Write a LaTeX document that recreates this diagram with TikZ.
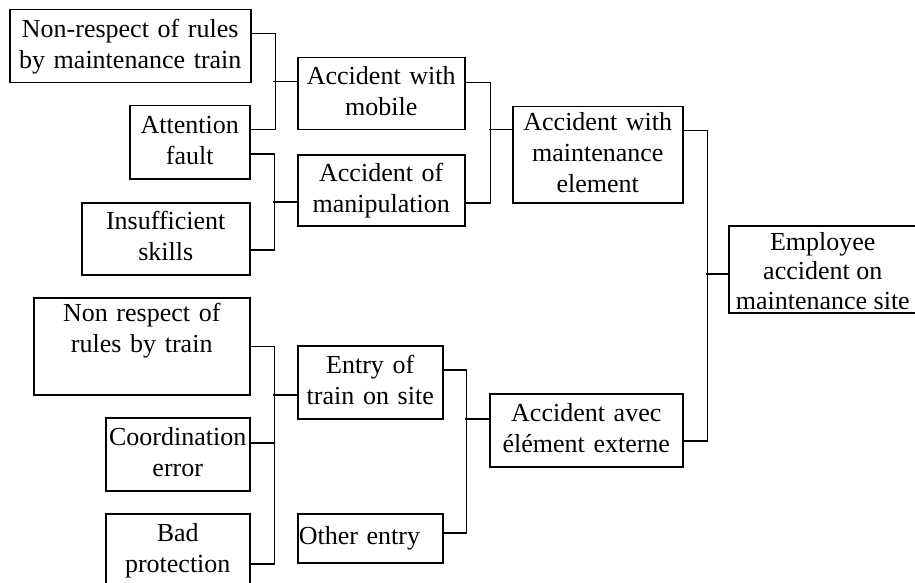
\documentclass[tikz,border=0pt]{standalone}
\usepackage{fontspec}
\setmainfont{Liberation Serif}
% line strut: 20pt above the baseline, 7pt below
\newcommand{\tstrut}{\rule[-7pt]{0pt}{27pt}}
\begin{document}
\begin{tikzpicture}[x=1pt,y=-1pt,
  box/.style={draw, line width=1.5pt, inner xsep=1pt, inner ysep=0pt,
    anchor=north west, align=center,
    font=\fontsize{26}{31}\selectfont},
  link/.style={line width=1.5pt}]
\useasboundingbox (0,0) rectangle (915,583);

% causes
\node[box, text width=239pt, minimum height=73pt] (b1) at (9,9)
  {\tstrut Non-respect of rules\\\tstrut by maintenance train};
\node[box, text width=118pt, minimum height=73pt] (b2) at (129,105)
  {\tstrut Attention\\\tstrut fault};
\node[box, text width=166pt, minimum height=72pt] (b3) at (81,202)
  {\tstrut Insufficient\\\tstrut skills};
\node[box, text width=214pt, minimum height=97pt] (c1) at (33,297)
  {\tstrut Non respect of\\\tstrut rules by train\\\tstrut};
\node[box, text width=142pt, minimum height=73pt] (c2) at (105,417)
  {\tstrut Coordination\\\tstrut error};
\node[box, text width=142pt, minimum height=73pt] (c3) at (105,513)
  {\tstrut Bad\\\tstrut protection};

% intermediate events
\node[box, text width=165pt, minimum height=72pt] (m1) at (297,57)
  {\tstrut Accident with\\\tstrut mobile};
\node[box, text width=165pt, minimum height=71pt] (m2) at (297,154)
  {\tstrut Accident of\\\tstrut manipulation};
\node[box, text width=143pt, minimum height=73pt] (n1) at (297,345)
  {\tstrut Entry of\\\tstrut train on site};
\node[box, text width=143pt, minimum height=49pt, align=left] (n2) at (297,513)
  {\tstrut Other entry};

% upper-level events
\node[box, text width=168pt, minimum height=96pt] (e1) at (512,106)
  {\tstrut Accident with\\\tstrut maintenance\\\tstrut element};
\node[box, text width=191pt, minimum height=73pt] (x1) at (489,393)
  {\tstrut Accident avec\\\tstrut élément externe};

% top event: frame and its text set slightly low in the frame
\node[box, text width=188pt, minimum height=87pt] (top) at (728,225) {};
\node[font=\fontsize{26}{29.5}\selectfont, align=center, inner sep=0pt]
  (toptext) at ([xshift=-1pt,yshift=-4pt]top.center)
  {\tstrut Employee\\\tstrut accident on\\\tstrut maintenance site};

% tree connectors
\draw[link] ([yshift=12.5pt]b1.east) -- ++(24,0) |- ([yshift=12.5pt]b2.east);
\draw[link] ([yshift=12pt]m1.west) -- ++(-24,0);

\draw[link] ([yshift=-11.5pt]b2.east) -- ++(24,0) |- ([yshift=-11pt]b3.east);
\draw[link] ([yshift=-11.5pt]m2.west) -- ++(-24,0);

\draw[link] ([yshift=11pt]m1.east) -- ++(25,0) |- ([yshift=-12.5pt]m2.east);
\draw[link] ([yshift=25pt]e1.west) -- ++(-23,0);

\draw[link] ([yshift=24pt]e1.east) -- ++(24,0) |- ([yshift=-10.5pt]x1.east);
\draw[link] ([yshift=-4.5pt]top.west) -- ++(-22,0);

\draw[link] (c1.east) -- ++(24,0) |- ([yshift=-13.5pt]c3.east);
\draw[link] ([yshift=11.5pt]c2.east) -- ++(24,0);
\draw[link] ([yshift=-12.5pt]n1.west) -- ++(-24,0);

\draw[link] ([yshift=12.5pt]n1.east) -- ++(23,0) |- ([yshift=5.5pt]n2.east);
\draw[link] ([yshift=11.5pt]x1.west) -- ++(-24,0);
\end{tikzpicture}
\end{document}
